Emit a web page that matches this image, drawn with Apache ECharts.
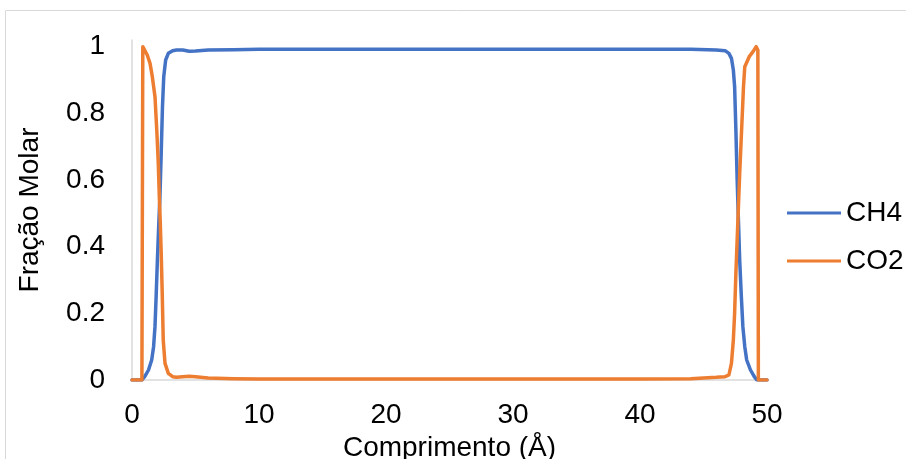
<!DOCTYPE html>
<html>
<head>
<meta charset="utf-8">
<script src="https://cdn.jsdelivr.net/npm/echarts@6/dist/echarts.min.js"></script>
<style>
html,body{margin:0;padding:0;background:#fff;}
#c{width:906px;height:459px;}
</style>
</head>
<body>
<div id="c"></div>
<script>
const seriesNames = ['CH4', 'CO2'];
const ch4X = [0, 0.77, 1.0, 1.3, 1.55, 1.7, 1.81, 1.9, 2.0, 2.1, 2.2, 2.3, 2.4, 2.5, 2.65, 2.86, 3.2, 3.5, 4.0, 4.5, 5.0, 6, 8, 10, 15, 20, 25, 30, 35, 40, 44, 46, 46.7, 47.0, 47.2, 47.35, 47.45, 47.55, 47.65, 47.75, 47.85, 47.98, 48.1, 48.25, 48.4, 48.7, 49.0, 49.2, 49.3, 50];
const ch4Y = [0, 0, 0.01, 0.03, 0.06, 0.1, 0.16, 0.25, 0.36, 0.46, 0.55, 0.68, 0.82, 0.91, 0.96, 0.98, 0.988, 0.99, 0.99, 0.986, 0.987, 0.99, 0.991, 0.992, 0.992, 0.992, 0.992, 0.992, 0.992, 0.992, 0.992, 0.99, 0.988, 0.98, 0.965, 0.93, 0.88, 0.75, 0.6, 0.48, 0.36, 0.25, 0.16, 0.1, 0.06, 0.03, 0.01, 0, 0, 0];
const co2X = [0, 0.78, 0.85, 1.0, 1.2, 1.42, 1.6, 1.81, 1.95, 2.07, 2.15, 2.22, 2.3, 2.38, 2.46, 2.6, 2.86, 3.2, 3.5, 4.0, 4.5, 5.0, 6, 8, 10, 15, 20, 25, 30, 35, 40, 44, 45, 46, 46.7, 47.0, 47.2, 47.35, 47.45, 47.55, 47.65, 47.75, 47.85, 48.0, 48.15, 48.25, 48.6, 48.9, 49.15, 49.28, 49.32, 50];
const co2Y = [0, 0, 1.0, 0.995, 0.975, 0.95, 0.91, 0.85, 0.75, 0.65, 0.55, 0.48, 0.38, 0.26, 0.12, 0.05, 0.02, 0.01, 0.008, 0.01, 0.011, 0.01, 0.006, 0.004, 0.003, 0.003, 0.003, 0.003, 0.003, 0.003, 0.003, 0.004, 0.006, 0.008, 0.01, 0.015, 0.05, 0.12, 0.2, 0.32, 0.42, 0.52, 0.62, 0.75, 0.88, 0.94, 0.97, 0.985, 1.0, 0.99, 0, 0];
const xTicks = [0, 10, 20, 30, 40, 50];
const yTicks = [0, 0.2, 0.4, 0.6, 0.8, 1];

function zip(xs, ys) { return xs.map((x, i) => [x, ys[i]]); }

const chart = echarts.init(document.getElementById('c'));
const font = 'Arial, "Liberation Sans", sans-serif';
const fs = 28;
chart.setOption({
  animation: false,
  textStyle: { fontFamily: font },
  graphic: [{
    type: 'rect', silent: true, z: -1,
    shape: { x: 5.5, y: 10.5, width: 1000, height: 1000 },
    style: { fill: 'none', stroke: '#d9d9d9', lineWidth: 1 }
  }],
  grid: { left: 132, right: 139, top: 40, bottom: 79, containLabel: false, outerBoundsMode: 'none' },
  legend: {
    orient: 'vertical', left: 782, top: 194,
    icon: 'rect', itemWidth: 54, itemHeight: 3, itemGap: 20,
    textStyle: { fontSize: fs, color: '#000', fontFamily: font, lineHeight: 28 },
    data: seriesNames
  },
  xAxis: {
    type: 'value', min: xTicks[0], max: xTicks[xTicks.length - 1], interval: 10,
    name: 'Comprimento (Å)', nameLocation: 'middle', nameGap: 49,
    nameTextStyle: { fontSize: fs, color: '#000', fontFamily: font },
    axisLine: { show: true, lineStyle: { color: '#d9d9d9', width: 1.5 } },
    axisTick: { show: false },
    splitLine: { show: false },
    axisLabel: { fontSize: fs, color: '#000', margin: 21, fontFamily: font }
  },
  yAxis: {
    type: 'value', min: 0, max: 1.02, interval: 0.2,
    name: 'Fração Molar', nameLocation: 'middle', nameGap: 88,
    nameTextStyle: { fontSize: fs, color: '#000', fontFamily: font },
    axisLine: { show: true, lineStyle: { color: '#d9d9d9', width: 1.5 } },
    axisTick: { show: false },
    splitLine: { show: false },
    axisLabel: {
      fontSize: fs, color: '#000', margin: 27, fontFamily: font, showMaxLabel: false,
      formatter: v => (Math.abs(v - 1.02) < 1e-6 ? '' : String(Math.round(v * 10) / 10))
    }
  },
  series: [
    { name: seriesNames[0], type: 'line', data: zip(ch4X, ch4Y), showSymbol: false, smooth: false,
      lineStyle: { color: '#4472C4', width: 3.5, join: 'round', cap: 'round' }, itemStyle: { color: '#4472C4' } },
    { name: seriesNames[1], type: 'line', data: zip(co2X, co2Y), showSymbol: false, smooth: false,
      lineStyle: { color: '#ED7D31', width: 3.5, join: 'round', cap: 'round' }, itemStyle: { color: '#ED7D31' } }
  ]
});
</script>
</body>
</html>
